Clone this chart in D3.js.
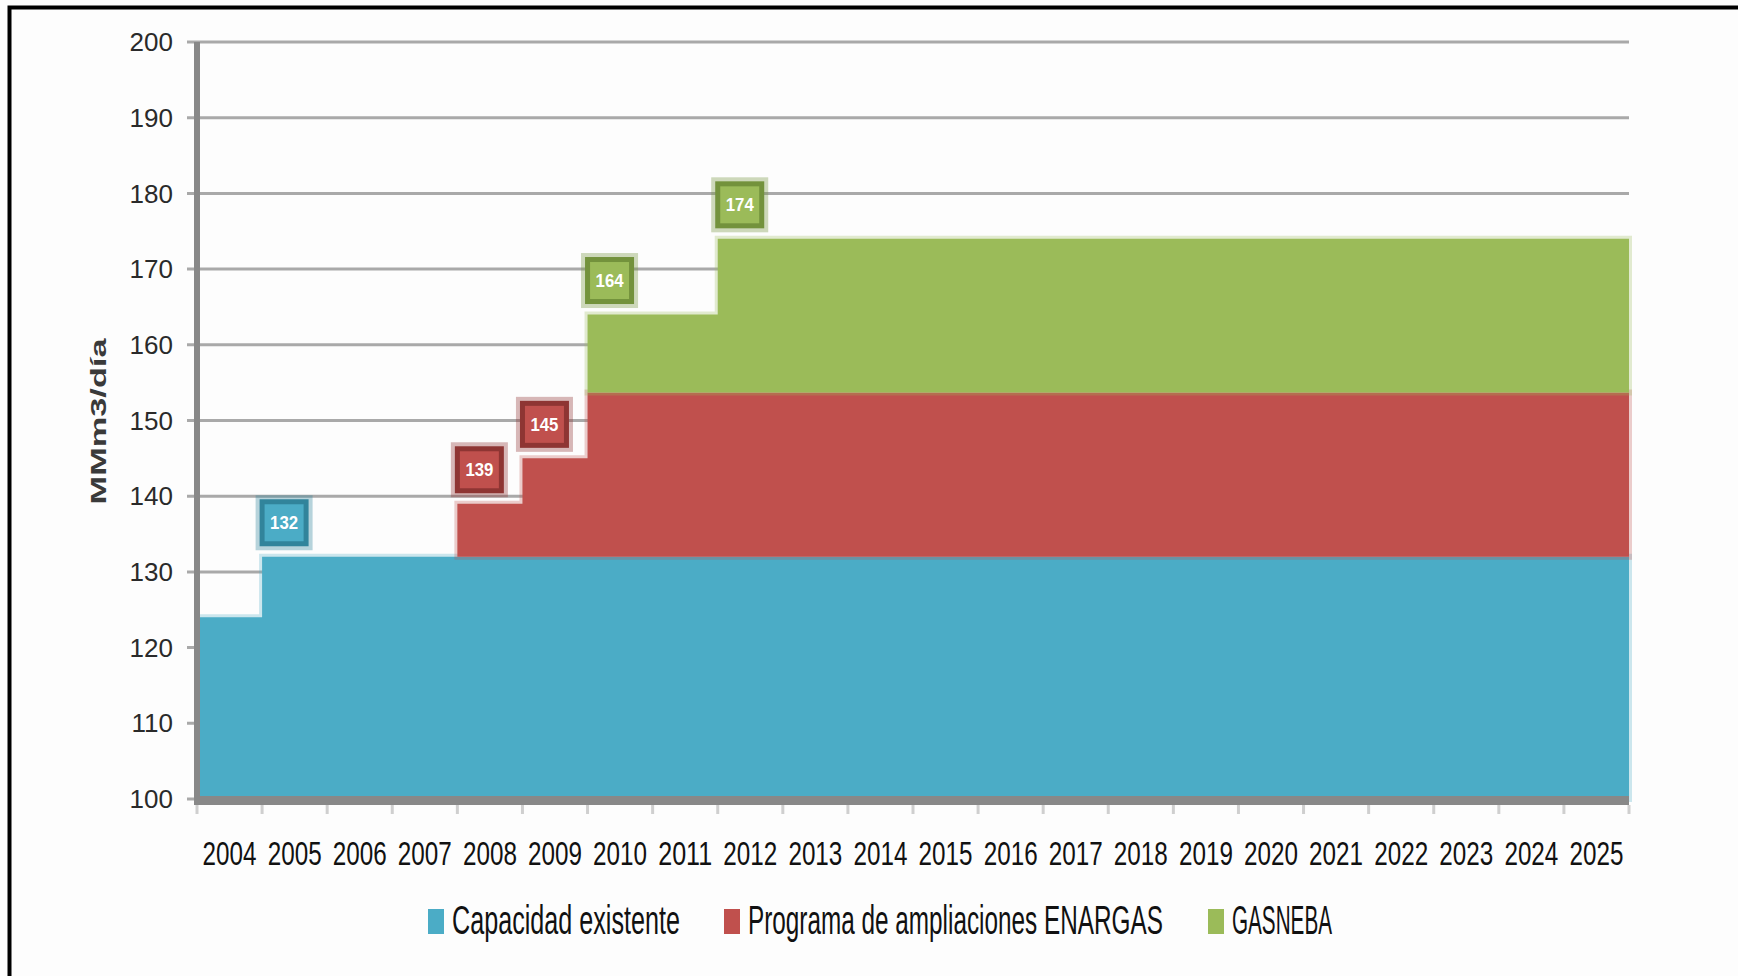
<!DOCTYPE html>
<html>
<head>
<meta charset="utf-8">
<script src="https://cdn.jsdelivr.net/npm/d3@7.9.0/dist/d3.min.js"></script>
<style>
  body { margin: 0; background: #fdfdfd; }
  svg { display: block; font-family: "Liberation Sans", Arial, sans-serif; }
</style>
</head>
<body>
<svg id="chart"></svg>
<script>
const years = ["2004", "2005", "2006", "2007", "2008", "2009", "2010", "2011", "2012", "2013", "2014",
               "2015", "2016", "2017", "2018", "2019", "2020", "2021", "2022", "2023", "2024", "2025"];

// MMm3/día per series (stacked)
const capacidad = [124, 132, 132, 132, 132, 132, 132, 132, 132, 132, 132,
                   132, 132, 132, 132, 132, 132, 132, 132, 132, 132, 132];
const programa  = [0, 0, 0, 0, 7, 13, 21.7, 21.7, 21.7, 21.7, 21.7,
                   21.7, 21.7, 21.7, 21.7, 21.7, 21.7, 21.7, 21.7, 21.7, 21.7, 21.7];
const gasneba   = [0, 0, 0, 0, 0, 0, 10.3, 10.3, 20.3, 20.3, 20.3,
                   20.3, 20.3, 20.3, 20.3, 20.3, 20.3, 20.3, 20.3, 20.3, 20.3, 20.3];

const seriesKeys = ["capacidad", "programa", "gasneba"];
const seriesNames = ["Capacidad existente", "Programa de ampliaciones ENARGAS", "GASNEBA"];
const seriesColors = ["#4bacc6", "#c0504d", "#9bbb59"];
const borderColors = ["#31849b", "#8e3533", "#73923c"];

const yTicks = [100, 110, 120, 130, 140, 150, 160, 170, 180, 190, 200];

// data labels shown on the chart
const labelYears = ["2005", "2008", "2009", "2010", "2012"];
const labelValues = [132, 139, 145, 164, 174];
const labelSeries = [0, 1, 1, 2, 2];

const width = 1738;
const height = 976;
const margin = { top: 42, right: 109, bottom: 177, left: 197 };

const svg = d3.select("#chart")
  .attr("width", width)
  .attr("height", height);

// squeeze a text horizontally so it takes w pixels (text sits at 0,0 of its group)
function squeeze(sel, w) {
  sel.each(function (d, i) {
    const t = d3.select(this);
    const target = typeof w === "function" ? w(d, i) : w;
    const natural = this.getComputedTextLength();
    const prev = t.attr("data-base") || "";
    t.attr("transform", `${prev} scale(${target / natural},1)`);
  });
}

svg.append("rect")
  .attr("width", width)
  .attr("height", height)
  .attr("fill", "#fdfdfd");

// frame (only top and left edges visible)
svg.append("path")
  .attr("d", `M${width},7.5H9.5V${height}`)
  .attr("fill", "none")
  .attr("stroke", "#000")
  .attr("stroke-width", 4);

const x = d3.scaleBand()
  .domain(years)
  .range([margin.left, width - margin.right]);

const y = d3.scaleLinear()
  .domain([100, 200])
  .range([height - margin.bottom, margin.top]);

// gridlines
svg.append("g")
  .selectAll("line")
  .data(yTicks)
  .join("line")
  .attr("x1", margin.left - 10)
  .attr("x2", width - margin.right)
  .attr("y1", d => y(d))
  .attr("y2", d => y(d))
  .attr("stroke", "#a9a9a9")
  .attr("stroke-width", 3);

// y tick labels
svg.append("g")
  .selectAll("text")
  .data(yTicks)
  .join("text")
  .attr("x", margin.left - 24)
  .attr("y", d => y(d))
  .attr("dy", "0.35em")
  .attr("text-anchor", "end")
  .attr("font-size", 26)
  .attr("fill", "#2a2a2a")
  .text(d => d);

// stacked step areas
const table = years.map((yr, i) => ({
  year: yr, capacidad: capacidad[i], programa: programa[i], gasneba: gasneba[i]
}));
const stacked = d3.stack().keys(seriesKeys)(table);

const area = d3.area()
  .curve(d3.curveStepAfter)
  .defined(p => p.v > 0)
  .x(p => p.x)
  .y0(p => y(Math.max(p.y0, 100)))
  .y1(p => y(p.y1));

const areas = svg.append("g");
stacked.forEach((layer, k) => {
  const pts = layer.map((d, i) => ({ x: x(years[i]), y0: d[0], y1: d[1], v: d[1] - d[0] }));
  const last = pts[pts.length - 1];
  pts.push({ ...last, x: x.range()[1] });

  areas.append("path")
    .attr("d", area(pts))
    .attr("fill", "none")
    .attr("stroke", seriesColors[k])
    .attr("stroke-opacity", 0.28)
    .attr("stroke-width", 6);

  areas.append("path")
    .attr("d", area(pts))
    .attr("fill", seriesColors[k]);
});

// axes lines
svg.append("line")
  .attr("x1", margin.left)
  .attr("x2", margin.left)
  .attr("y1", margin.top)
  .attr("y2", y(100) + 6)
  .attr("stroke", "#888")
  .attr("stroke-width", 6);

svg.append("line")
  .attr("x1", margin.left - 3)
  .attr("x2", width - margin.right)
  .attr("y1", y(100) + 1.5)
  .attr("y2", y(100) + 1.5)
  .attr("stroke", "#888")
  .attr("stroke-width", 9);

// x ticks at band edges
const edges = years.map(yr => x(yr)).concat([x.range()[1]]);
svg.append("g")
  .selectAll("line")
  .data(edges)
  .join("line")
  .attr("x1", d => d)
  .attr("x2", d => d)
  .attr("y1", y(100) + 6)
  .attr("y2", y(100) + 15)
  .attr("stroke", "#cfcfcf")
  .attr("stroke-width", 3);

// year labels
svg.append("g")
  .selectAll("text")
  .data(years)
  .join("text")
  .attr("data-base", d => `translate(${x(d) + x.bandwidth() / 2},${y(100) + 66})`)
  .attr("text-anchor", "middle")
  .attr("font-size", 34)
  .attr("fill", "#111")
  .text(d => d)
  .call(squeeze, 54);

// y axis title
svg.append("text")
  .attr("data-base", `translate(98,${(y(100) + y(200)) / 2 + 1}) rotate(-90)`)
  .attr("text-anchor", "middle")
  .attr("dy", "0.35em")
  .attr("font-size", 22)
  .attr("font-weight", "bold")
  .attr("fill", "#3a3a3a")
  .text("MMm3/día")
  .call(squeeze, 166);

// data label boxes
const labels = svg.append("g")
  .selectAll("g")
  .data(labelYears.map((yr, i) => ({ year: yr, value: labelValues[i], s: labelSeries[i] })))
  .join("g")
  .attr("transform", d => `translate(${x(d.year) + 22},${y(d.value) - 34})`);

labels.append("rect")
  .attr("x", -24).attr("y", -23)
  .attr("width", 48).attr("height", 46)
  .attr("fill", "none")
  .attr("stroke", d => borderColors[d.s])
  .attr("stroke-opacity", 0.35)
  .attr("stroke-width", 9);

labels.append("rect")
  .attr("x", -22).attr("y", -21)
  .attr("width", 44).attr("height", 42)
  .attr("fill", d => seriesColors[d.s])
  .attr("stroke", d => borderColors[d.s])
  .attr("stroke-width", 5);

labels.append("text")
  .attr("text-anchor", "middle")
  .attr("dy", "0.36em")
  .attr("font-size", 18)
  .attr("font-weight", "bold")
  .attr("fill", "#fff")
  .text(d => d.value)
  .call(squeeze, 28);

// legend
const legendX = [428, 724, 1208];
const legendTextW = [228, 415, 100];
const legend = svg.append("g")
  .selectAll("g")
  .data(seriesNames)
  .join("g")
  .attr("transform", (d, i) => `translate(${legendX[i]},909)`);

legend.append("rect")
  .attr("width", 16)
  .attr("height", 25)
  .attr("fill", (d, i) => seriesColors[i]);

legend.append("text")
  .attr("data-base", "translate(24,25)")
  .attr("font-size", 40)
  .attr("fill", "#111")
  .text(d => d)
  .call(squeeze, (d, i) => legendTextW[i]);
</script>
</body>
</html>
